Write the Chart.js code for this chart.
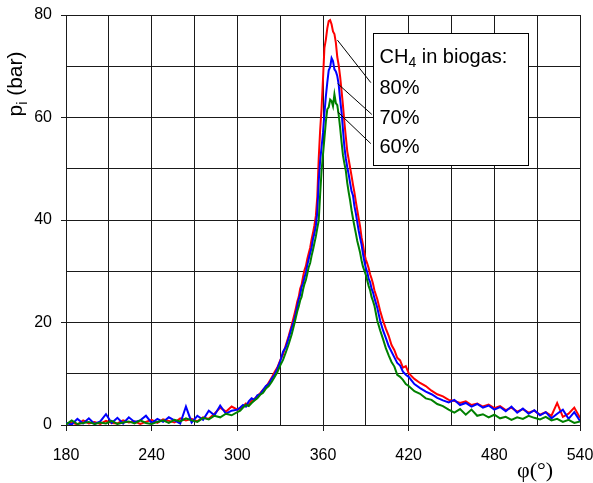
<!DOCTYPE html>
<html>
<head>
<meta charset="utf-8">
<script src="https://cdn.jsdelivr.net/npm/chart.js@4.4.0/dist/chart.umd.min.js"></script>
<style>
  html, body { margin: 0; padding: 0; background: #fff; }
</style>
</head>
<body>
<canvas id="c" width="593" height="483"></canvas>
<script>
// crank angle (deg)
const angles = [
  180,184,188,192,196,200,204,208,212,216,220,224,228,232,236,240,244,248,252,256,260,264,268,272,276,280,284,288,292,296,300,
  302,304,306,308,310,312,314,316,318,320,322,324,326,328,330,332,334,336,338,
  340,341,342,343,344,345,346,347,348,349,350,351,352,353,354,355,356,357,358,359,
  360,361,362,363,364,365,366,367,368,369,370,371,372,373,374,375,376,377,378,379,
  380,381,382,383,384,385,386,387,388,389,390,391,392,393,394,395,396,
  398,400,402,404,406,408,410,412,414,416,418,420,
  424,428,432,436,440,444,448,452,456,460,464,468,472,476,480,484,488,492,496,500,504,508,512,516,520,524,528,532,536,540
];

// cylinder pressure (bar), CH4 80%
const p80 = [
  0.2,0.5,0.1,0.9,0.3,0.6,0.2,0.8,0.4,0.3,0.9,0.5,0.7,0.2,0.6,1.0,0.4,1.1,0.8,0.5,1.3,0.9,1.2,0.7,1.5,1.2,2.2,3.4,2.6,3.6,3.0,
  3.2,3.6,4.2,3.9,4.8,5.1,5.6,6.2,6.9,7.4,8.3,9.2,10.3,11.2,12.6,13.8,15.6,17.4,19.4,
  21.6,22.8,24.1,25.0,26.6,27.4,28.9,30.2,31.0,32.4,33.5,34.6,36.2,37.5,39.0,40.8,44.5,52.0,57.5,61.8,
  67.5,73.6,75.2,77.4,78.8,79.0,78.2,76.8,76.3,74.6,71.8,70.2,68.0,65.2,62.3,59.0,56.2,53.4,51.8,50.2,
  48.6,46.9,45.4,43.6,41.9,40.3,38.7,36.6,35.2,33.4,32.3,31.5,30.6,29.4,28.6,27.6,26.3,
  24.6,22.3,20.4,18.8,17.4,15.6,14.6,13.1,12.6,11.2,11.5,10.1,
  9.0,8.2,7.6,6.7,6.0,5.6,4.9,4.7,4.3,4.6,3.9,4.2,3.6,4.0,3.3,3.7,2.9,3.4,2.6,3.1,2.4,2.8,2.0,2.5,1.8,4.3,1.6,2.2,3.4,1.4
];

// CH4 70%
const p70 = [
  0.4,0.1,1.2,0.3,1.3,0.2,0.7,2.1,0.4,1.4,0.3,1.5,0.6,0.9,1.8,0.4,1.2,0.6,1.5,0.9,0.3,3.6,0.5,1.8,1.0,2.8,1.9,3.8,2.2,2.8,3.0,
  3.4,3.9,3.6,4.6,5.2,4.9,5.8,6.0,6.8,7.6,8.0,9.0,9.8,11.0,12.4,14.3,15.2,17.0,18.9,
  20.6,21.9,23.2,24.5,25.4,26.9,27.6,28.8,29.7,31.2,32.4,33.5,34.6,36.3,37.4,38.9,41.5,47.5,51.6,54.2,
  57.0,60.8,64.1,66.8,69.2,69.8,71.6,71.0,69.4,69.0,68.1,66.4,63.5,61.0,57.6,54.2,52.0,50.3,48.9,47.2,
  45.6,44.8,42.7,41.3,39.6,37.9,36.5,35.2,33.4,31.9,30.6,29.8,28.5,27.9,26.6,25.9,24.8,
  22.9,20.4,18.5,17.0,15.4,14.3,13.2,12.1,11.6,10.4,9.8,9.4,
  8.0,7.2,6.5,6.0,5.3,4.8,4.4,4.9,3.9,4.3,3.6,4.1,3.4,3.8,3.0,3.5,2.7,3.6,2.4,3.2,2.2,2.9,1.9,2.5,1.3,2.2,3.0,1.2,2.5,0.8
];

// CH4 60%
const p60 = [
  0.1,0.9,0.2,0.4,0.6,0.2,0.5,0.3,0.8,0.2,0.5,0.7,0.3,0.9,0.4,0.2,0.6,0.9,0.4,1.0,0.7,1.3,0.9,0.6,1.4,1.1,1.8,1.5,2.2,1.9,2.5,
  2.8,3.4,3.9,3.7,4.3,4.8,5.2,5.9,6.3,7.1,7.6,8.4,9.3,10.3,11.6,12.7,14.2,15.8,17.6,
  19.8,21.0,22.2,23.1,24.3,25.0,26.4,27.5,28.3,29.5,30.8,31.6,33.0,34.2,35.5,36.8,38.4,39.9,45.0,49.6,
  52.8,55.9,59.2,61.6,62.0,63.5,63.2,62.2,64.5,62.8,62.4,60.5,58.0,55.2,52.6,51.0,49.6,47.2,45.4,43.8,
  41.9,40.3,38.8,37.4,35.9,34.8,33.6,32.1,30.9,30.1,29.3,28.2,27.1,26.3,25.0,24.2,23.3,
  20.4,18.5,16.8,15.0,13.6,12.3,11.4,9.8,9.4,8.8,8.0,7.6,
  6.6,6.1,5.2,4.9,4.1,3.7,3.0,2.4,3.1,2.0,3.0,1.8,2.1,1.5,2.0,1.3,1.6,1.0,1.5,1.2,1.8,1.4,1.1,1.6,0.9,1.2,0.6,1.0,0.4,0.7
];

const xTicks = [180,210,240,270,300,330,360,390,420,450,480,510,540];
const xLabels = [180,240,300,360,420,480,540];
const yTicks = [0,10,20,30,40,50,60,70,80];
const yLabels = [0,20,40,60,80];
const seriesNames = ['80%', '70%', '60%'];
const seriesColors = ['#ff0000', '#0000ff', '#008000'];

const FONT = '"Liberation Sans", Arial, sans-serif';
const GRID = '#1a1a1a';

function toXY(vals) {
  return angles.map((a, i) => ({ x: a, y: vals[i] }));
}

// Beschriftung: Legendenkasten, Hinweislinien, Achsentitel
const overlay = {
  id: 'overlay',
  afterDraw(chart) {
    const { ctx } = chart;
    const xs = chart.scales.x, ys = chart.scales.y;
    const px = v => xs.getPixelForValue(v);
    const py = v => ys.getPixelForValue(v);
    ctx.save();

    // box
    const bl = Math.round(px(394.7)) + 0.5, br = Math.round(px(503.3)) + 0.5;
    const bt = Math.round(py(76.4)) + 0.5, bb = Math.round(py(50.8)) + 0.5;
    ctx.fillStyle = '#fff';
    ctx.fillRect(bl, bt, br - bl, bb - bt);
    ctx.strokeStyle = '#000';
    ctx.lineWidth = 1;
    ctx.strokeRect(bl, bt, br - bl, bb - bt);

    // leader lines
    const leaders = [[370.1, 75.1, 393.5, 66.8], [370.3, 66.6, 394.2, 60.6], [370.3, 61.1, 393.5, 54.9]];
    leaders.forEach(l => {
      ctx.beginPath();
      ctx.moveTo(px(l[0]), py(l[1]));
      ctx.lineTo(px(l[2]), py(l[3]));
      ctx.stroke();
    });

    // box text
    ctx.fillStyle = '#000';
    ctx.textBaseline = 'alphabetic';
    ctx.textAlign = 'left';
    const tx = bl + 6;
    ctx.font = '20px ' + FONT;
    ctx.fillText('CH', tx, 63);
    let w = ctx.measureText('CH').width;
    ctx.font = '14px ' + FONT;
    ctx.fillText('4', tx + w, 67);
    w += ctx.measureText('4').width;
    ctx.font = '20px ' + FONT;
    ctx.fillText(' in biogas:', tx + w, 63);
    seriesNames.forEach((s, i) => ctx.fillText(s, tx, 94 + i * 29.5));

    // y title: p_i (bar)
    ctx.save();
    ctx.translate(22, 84);
    ctx.rotate(-Math.PI / 2);
    ctx.font = '21px ' + FONT;
    const wp = ctx.measureText('p').width;
    const wb = ctx.measureText(' (bar)').width;
    ctx.font = '14px ' + FONT;
    const wi = ctx.measureText('i').width;
    let sx = -(wp + wi + wb) / 2;
    ctx.font = '21px ' + FONT;
    ctx.fillText('p', sx, 0);
    ctx.font = '14px ' + FONT;
    ctx.fillText('i', sx + wp, 5);
    ctx.font = '21px ' + FONT;
    ctx.fillText(' (bar)', sx + wp + wi, 0);
    ctx.restore();

    // x title
    ctx.font = '22px "Liberation Serif", "Times New Roman", serif';
    ctx.fillText('φ(°)', 517, 477);

    ctx.restore();
  }
};

new Chart(document.getElementById('c'), {
  type: 'line',
  data: {
    datasets: [p80, p70, p60].map((vals, i) => ({
      label: seriesNames[i],
      data: toXY(vals),
      borderColor: seriesColors[i],
      borderWidth: 2,
      pointRadius: 0,
      fill: false,
      tension: 0,
      order: 2 - i
    }))
  },
  options: {
    responsive: false,
    animation: false,
    devicePixelRatio: 1,
    layout: { padding: { top: 15, right: 13, left: 0, bottom: 0 } },
    plugins: { legend: { display: false }, tooltip: { enabled: false } },
    scales: {
      x: {
        type: 'linear', min: 180, max: 540,
        afterBuildTicks: s => { s.ticks = xTicks.map(v => ({ value: v })); },
        afterFit: s => { s.height = 58; s.paddingLeft = 0; s.paddingRight = 0; },
        ticks: {
          autoSkip: false, maxRotation: 0, padding: 15, color: '#000',
          font: { family: FONT, size: 16 },
          callback: v => xLabels.includes(v) ? String(v) : ''
        },
        grid: {
          color: GRID, lineWidth: 1, tickLength: 6,
          tickColor: c => (c.tick && xLabels.includes(c.tick.value)) ? GRID : 'rgba(0,0,0,0)'
        },
        border: { color: GRID, width: 1 }
      },
      y: {
        min: 0, max: 80,
        afterBuildTicks: s => { s.ticks = yTicks.map(v => ({ value: v })); },
        afterFit: s => { s.width = 66; s.paddingTop = 0; s.paddingBottom = 0; },
        ticks: {
          padding: 9, color: '#000',
          font: { family: FONT, size: 16 },
          callback: v => yLabels.includes(v) ? String(v) : ''
        },
        grid: {
          color: GRID, lineWidth: 1, tickLength: 5,
          tickColor: c => (c.tick && yLabels.includes(c.tick.value)) ? GRID : 'rgba(0,0,0,0)'
        },
        border: { color: GRID, width: 1 }
      }
    }
  },
  plugins: [overlay]
});
</script>
</body>
</html>
